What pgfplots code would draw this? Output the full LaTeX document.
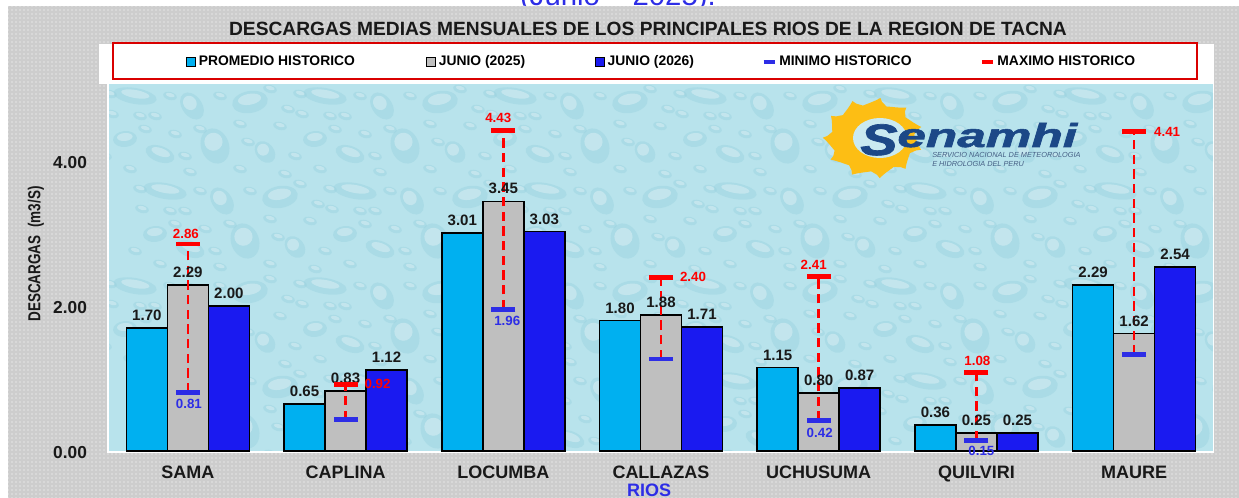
\documentclass[border=0pt]{standalone}
\usepackage{fontspec}
\setmainfont{Liberation Sans}
\newfontfamily\logofont{Liberation Sans}[FakeBold=1.6]
\usepackage{pgfplots}
\usepackage{pgfplotstable}
\pgfplotsset{compat=1.18}
\usetikzlibrary{patterns}
\definecolor{cprom}{RGB}{0,176,240}
\definecolor{cj25}{RGB}{191,191,191}
\definecolor{cj26}{RGB}{26,26,240}
\definecolor{cmin}{RGB}{45,45,230}
\definecolor{cmax}{RGB}{255,0,0}
\definecolor{water}{RGB}{184,227,236}
\definecolor{drop}{RGB}{150,208,222}
\definecolor{panel}{RGB}{205,205,205}
\definecolor{navy}{RGB}{28,72,135}
\definecolor{sun}{RGB}{253,190,20}

\pgfplotstableread{
x prom j25 j26
0 1.70 2.29 2.00
1 0.65 0.83 1.12
2 3.01 3.45 3.03
3 1.80 1.88 1.71
4 1.15 0.80 0.87
5 0.36 0.25 0.25
6 2.29 1.62 2.54
}\caudales

\pgfplotstableread{
x y dx dy lab
0 2.86 -2 10 2.86
1 0.92 32 0 0.92
2 4.43 -5 12 4.43
3 2.40 32 0 2.40
4 2.41 -5 12 2.41
5 1.08 1 12 1.08
6 4.41 33 0 4.41
}\maximos

\pgfplotstableread{
x y dx dy lab
0 0.81 1 -12 0.81
1 0.43 0 0 {}
2 1.96 4 -12 1.96
3 1.27 0 0 {}
4 0.42 1 -12 0.42
5 0.15 5 -11 0.15
6 1.33 0 0 {}
}\minimos

% one droplet in picture pixels: centre, radii, rotation
\newcommand{\gota}[5]{%
  \fill[drop,opacity=.4,rotate around={#5:(#1,#2)}] (#1,#2) ellipse (#3 and #4);
  \fill[white,opacity=.3,rotate around={#5:(#1,#2)}] (#1,{#2-.25*#4}) ellipse ({.65*#3} and {.5*#4});
}
\tikzset{
  px/.style={x=0.75pt,y=-0.75pt},
  barra/.style={ybar,draw=black,line width=1.1pt,fill=#1},
}
\pgfplotsset{
  swatch/.style={legend image code/.code={\fill[#1,draw=black,line width=.6pt] (0,-.11cm) rectangle (.24cm,.11cm);}},
  raya/.style={legend image code/.code={\draw[#1,line width=2.4pt] (0,0) -- (.3cm,0);}},
}

\begin{document}
\begin{tikzpicture}
\begin{scope}[px]
\useasboundingbox (0,0) rectangle (1239,498);
\fill[white] (0,0) rectangle (1239,498);
\node[text=cmin,font=\fontsize{22}{26}\selectfont] at (618,-2) {(Junio – 2025).};
\fill[panel] (8,6) rectangle (1239,498);
\fill[pattern=dots,pattern color=white] (8,6) rectangle (1239,498);
\fill[white] (99,44) rectangle (1214,84);
\fill[white] (107,84) rectangle (1214,453);
\begin{scope}
\clip (109,84) rectangle (1213,451);
\fill[water] (109,84) rectangle (1213,451);
\foreach \tx in {0,1,...,5} \foreach \ty in {0,1,2,3} {
  \begin{scope}[shift={({100+190*\tx+30*mod(\ty,2)},{84+95*\ty})}]
    \gota{35}{12}{22}{8}{-10}
    \gota{92}{22}{10}{15}{35}
    \gota{150}{18}{18}{11}{10}
    \gota{25}{55}{12}{8}{5}
    \gota{60}{70}{15}{8}{-20}
    \gota{115}{62}{14}{18}{20}
    \gota{165}{68}{9}{12}{40}
    \foreach \sx/\sy in {12/30,55/32,70/12,120/12,140/40,180/42,30/85,90/88,140/85,185/90,75/50,45/45,10/10,100/45,170/5,40/32,85/72,148/58,5/72,188/25} {
      \gota{\sx}{\sy}{7}{4}{-15}
    }
  \end{scope}
}
\end{scope}
% logo
\begin{scope}[shift={(873,138)},xscale=1.24]
\foreach \a in {0,32.7,...,340} {
  \fill[sun,rotate=\a] (-13,-26) .. controls (-12,-33) and (-4,-33) .. (6,-40) .. controls (6,-34) and (14,-32) .. (13,-24) -- cycle;
}
\fill[sun] (0,0) circle (29);
\end{scope}
\fill[water!75!white] (880,138) ellipse (27 and 20);
\node[text=navy,font=\logofont\bfseries\itshape\fontsize{33}{36}\selectfont,inner sep=0,anchor=base west,xscale=1.27] at (860,155) {S};
\node[text=navy,font=\logofont\bfseries\itshape\fontsize{25}{28}\selectfont,inner sep=0,anchor=base west,xscale=1.54] at (897,147) {enamhi};
\node[text=navy!60!gray,font=\itshape\fontsize{5.5}{6.6}\selectfont,inner sep=0,anchor=north west,align=left] at (932,152) {SERVICIO NACIONAL DE METEOROLOGIA\\E HIDROLOGIA DEL PERU};
% legend frame and outer texts
\draw[red!85!black,line width=1.3pt] (113,43) rectangle (1197,79);
\node[font=\bfseries\fontsize{14.4}{16}\selectfont,text=black!90] at (648,29) {DESCARGAS MEDIAS MENSUALES DE LOS PRINCIPALES RIOS DE LA REGION DE TACNA};
\node[font=\bfseries\fontsize{13.5}{15}\selectfont,text=cmin] at (649,490) {RIOS};
\node[rotate=90,font=\bfseries\fontsize{13}{15}\selectfont,text=black!90,xscale=.78] at (36,254) {DESCARGAS\ \ (m3/S)};
\end{scope}

\begin{axis}[
  at={(81.75pt,-338.25pt)}, anchor=south west,
  scale only axis, width=828pt, height=275.25pt,
  xmin=-0.5, xmax=6.5, ymin=0, ymax=5.07,
  clip=false,
  axis line style={draw=none},
  major tick length=0pt,
  xtick={0,...,6},
  xticklabels={SAMA,CAPLINA,LOCUMBA,CALLAZAS,UCHUSUMA,QUILVIRI,MAURE},
  ytick={0,2,4},
  /pgf/number format/.cd, fixed, fixed zerofill, precision=2, assume math mode=true,
  /pgfplots/.cd,
  yticklabel style={xshift=-13pt,yshift=-1pt,font=\bfseries\fontsize{13}{15}\selectfont,text=black!90},
  xticklabel style={yshift=-8pt,font=\bfseries\fontsize{13.5}{15}\selectfont,text=black!90},
  every node near coord/.append style={font=\fontsize{11.3}{13}\selectfont\bfseries,text=black!90,inner sep=1.5pt,yshift=3.5pt},
  legend style={
    at={(axis description cs:0.0697,1.0600)}, anchor=west,
    draw=none, fill=none, inner xsep=0pt, inner ysep=0pt,
    font=\bfseries\fontsize{10.4}{12}\selectfont,
    legend columns=5,
    /tikz/column 2/.style={column sep=51.5pt},
    /tikz/column 4/.style={column sep=50.5pt},
    /tikz/column 6/.style={column sep=49pt},
    /tikz/column 8/.style={column sep=49.5pt},
  },
  legend cell align=left,
]
\addplot[barra=cprom,bar width=0.26,bar shift=-0.26,nodes near coords,swatch=cprom,
  every node near coord/.append style={xshift=-30.75pt}] table[x=x,y=prom] {\caudales};
\addlegendentry{PROMEDIO HISTORICO}
\addplot[barra=cj25,bar width=0.26,bar shift=0,nodes near coords,swatch=cj25] table[x=x,y=j25] {\caudales};
\addlegendentry{JUNIO (2025)}
\addplot[barra=cj26,bar width=0.26,bar shift=0.26,nodes near coords,swatch=cj26,
  every node near coord/.append style={xshift=30.75pt}] table[x=x,y=j26] {\caudales};
\addlegendentry{JUNIO (2026)}

\addplot[forget plot,cmax,line width=1.9pt,dash pattern=on 7pt off 4pt,unbounded coords=jump] coordinates {
  (0,0.81)(0,2.86)(0,nan)
  (1,0.43)(1,0.92)(1,nan)
  (2,1.96)(2,4.43)(2,nan)
  (3,1.27)(3,2.40)(3,nan)
  (4,0.42)(4,2.41)(4,nan)
  (5,0.15)(5,1.08)(5,nan)
  (6,1.33)(6,4.41)
};

\addplot[only marks,raya=cmin,mark=-,mark size=9pt,mark options={draw=cmin,line width=3.6pt},
  point meta=explicit symbolic,nodes near coords,
  visualization depends on={\thisrow{dx} \as \dx},
  visualization depends on={\thisrow{dy} \as \dy},
  every node near coord/.append style={anchor=center,xshift=.75pt*\dx,yshift=.75pt*\dy-3.5pt,text=cmin,font=\bfseries\fontsize{10}{12}\selectfont},
] table[x=x,y=y,meta=lab] {\minimos};
\addlegendentry{MINIMO HISTORICO}

\addplot[only marks,raya=cmax,mark=-,mark size=9pt,mark options={draw=cmax,line width=3.6pt},
  point meta=explicit symbolic,nodes near coords,
  visualization depends on={\thisrow{dx} \as \dx},
  visualization depends on={\thisrow{dy} \as \dy},
  every node near coord/.append style={anchor=center,xshift=.75pt*\dx,yshift=.75pt*\dy-3.5pt,text=cmax,font=\bfseries\fontsize{10}{12}\selectfont},
] table[x=x,y=y,meta=lab] {\maximos};
\addlegendentry{MAXIMO HISTORICO}
\end{axis}
\end{tikzpicture}
\end{document}
